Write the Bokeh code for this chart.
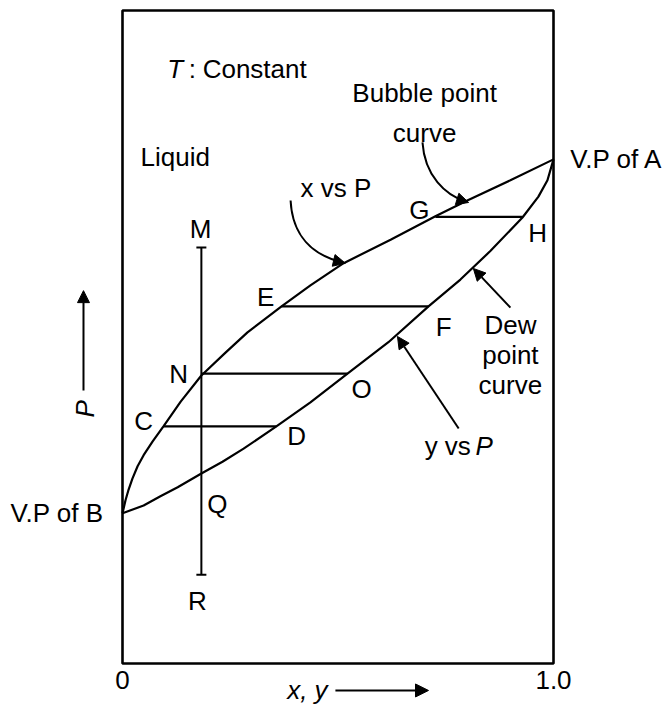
from bokeh.plotting import figure
from bokeh.models import Range1d, Arrow, NormalHead
from bokeh.core.properties import value
from bokeh.embed import file_html
from bokeh.resources import INLINE

# ---------------- data ----------------
# Bubble point curve: liquid mole fraction x vs P
bubble_x = [0.0, 0.007, 0.014, 0.023, 0.035, 0.049, 0.070, 0.095, 0.135, 0.183,
            0.239, 0.290, 0.369, 0.436, 0.513, 0.622, 0.726, 0.800, 0.900, 1.0]
bubble_P = [23.0, 25.0, 26.6, 28.3, 30.2, 31.9, 34.0, 36.3, 40.1, 44.1,
            47.6, 50.7, 54.7, 57.9, 61.3, 64.9, 68.5, 70.9, 74.0, 77.2]
# Dew point curve: vapour mole fraction y vs P
dew_y = [0.0, 0.049, 0.088, 0.128, 0.183, 0.232, 0.281, 0.357, 0.436, 0.522,
         0.617, 0.710, 0.784, 0.854, 0.928, 0.965, 0.986, 1.0]
dew_P = [23.0, 24.2, 25.6, 27.0, 29.1, 30.9, 32.9, 36.3, 40.0, 44.4,
         49.2, 54.7, 58.8, 63.2, 68.3, 71.5, 74.0, 77.2]
# Tie lines C-D, N-O, E-F, G-H
tie_P = [36.3, 44.4, 54.7, 68.4]
tie_x_liquid = [0.095, 0.183, 0.369, 0.726]
tie_y_vapour = [0.357, 0.522, 0.710, 0.928]
# Isopleth M-R (overall composition)
mix_z = [0.183]
mix_P_top = [63.7]
mix_P_bottom = [13.6]
# Frame and axis ticks
box_x = [0.0, 1.0]
box_P = [0.0, 100.0]
tick_values = [0.0, 1.0]
tick_labels = ["0", "1.0"]

FONT = value("Liberation Sans")
FS = "26px"

p = figure(width=662, height=704, output_backend="svg", toolbar_location=None,
           x_range=Range1d(-0.28306, 1.25290), y_range=Range1d(-6.279, 101.531),
           x_axis_location=None, y_axis_location=None, min_border=0,
           outline_line_color=None, background_fill_color="white",
           border_fill_color="white")
for g in p.grid:
    g.visible = False

# frame box
p.quad(left=[box_x[0]], right=[box_x[1]], bottom=[box_P[0]], top=[box_P[1]],
       fill_color=None, line_color="black", line_width=2.6)

# curves
p.line(bubble_x, bubble_P, line_color="black", line_width=2.2)
p.line(dew_y, dew_P, line_color="black", line_width=2.2)

# tie lines
p.segment(x0=tie_x_liquid, y0=tie_P, x1=tie_y_vapour, y1=tie_P,
          line_color="black", line_width=2.2)

# isopleth M-R with end ticks
p.segment(x0=mix_z, y0=mix_P_bottom, x1=mix_z, y1=mix_P_top,
          line_color="black", line_width=2)
p.dash(x=mix_z * 2, y=mix_P_top + mix_P_bottom, size=10, line_width=2,
       line_color="black")

DY = 1.4  # baseline correction


def txt(x, y, s, align="left", base="alphabetic", style="normal", angle=0.0):
    if base == "alphabetic":
        y = y + DY
    p.text(x=[x], y=[y], text=[s], text_font=FONT, text_font_size=FS,
           text_align=align, text_baseline=base, text_font_style=style,
           text_color="black", angle=angle)


# tick labels
for tv, tl in zip(tick_values, tick_labels):
    txt(tv, -2.6, tl, align="center", base="middle")

# text labels
txt(0.104, 89.7, "T", style="italic")
txt(0.162, 89.7, ":", align="center")
txt(0.186, 89.7, "Constant")
txt(0.701, 85.9, "Bubble point", align="center")
txt(0.701, 79.8, "curve", align="center")
txt(0.042, 76.1, "Liquid")
txt(0.495, 71.4, "x vs P", align="center")
txt(1.039, 75.8, "V.P of A")
txt(-0.044, 21.6, "V.P of B", align="right")
txt(0.689, 68.1, "G", align="center")
txt(0.963, 64.5, "H", align="center")
txt(0.181, 65.2, "M", align="center")
txt(0.332, 54.8, "E", align="center")
txt(0.745, 50.2, "F", align="center")
txt(0.130, 43.0, "N", align="center")
txt(0.555, 40.6, "O", align="center")
txt(0.049, 35.7, "C", align="center")
txt(0.404, 33.4, "D", align="center")
txt(0.220, 23.1, "Q", align="center")
txt(0.174, 8.1, "R", align="center")
txt(0.900, 50.5, "Dew", align="center")
txt(0.900, 45.9, "point", align="center")
txt(0.900, 41.3, "curve", align="center")
txt(0.701, 31.9, "y vs")
txt(0.819, 31.9, "P", style="italic")
txt(-0.088, 39.0, "P", align="center", base="middle", style="italic", angle=1.5708)
txt(0.429, -4.13, "x, y", align="center", base="middle", style="italic")

# curved arrows
p.bezier(x0=[0.390, 0.696], y0=[70.9, 79.8], x1=[0.512, 0.798], y1=[61.4, 70.7],
         cx0=[0.394, 0.701], cy0=[65.5, 74.7], cx1=[0.441, 0.749], cy1=[62.5, 71.7],
         line_color="black", line_width=2)


def head(xs, ys, xe, ye, size=12, lw=2, shaft=True):
    p.add_layout(Arrow(end=NormalHead(size=size, fill_color="black", line_color="black",
                                      line_width=1),
                       x_start=xs, y_start=ys, x_end=xe, y_end=ye,
                       line_color="black", line_width=lw,
                       line_alpha=1.0 if shaft else 0.0))


head(0.441, 62.5, 0.517, 61.3, shaft=False)
head(0.749, 71.7, 0.803, 70.6, shaft=False)
# straight arrows
head(0.900, 54.5, 0.814, 60.5)
head(0.780, 35.99, 0.638, 50.08)
head(-0.0905, 41.8, -0.0905, 57.1)
head(0.494, -4.13, 0.710, -4.13, size=13)

open("out.html", "w").write(file_html(p, INLINE))
